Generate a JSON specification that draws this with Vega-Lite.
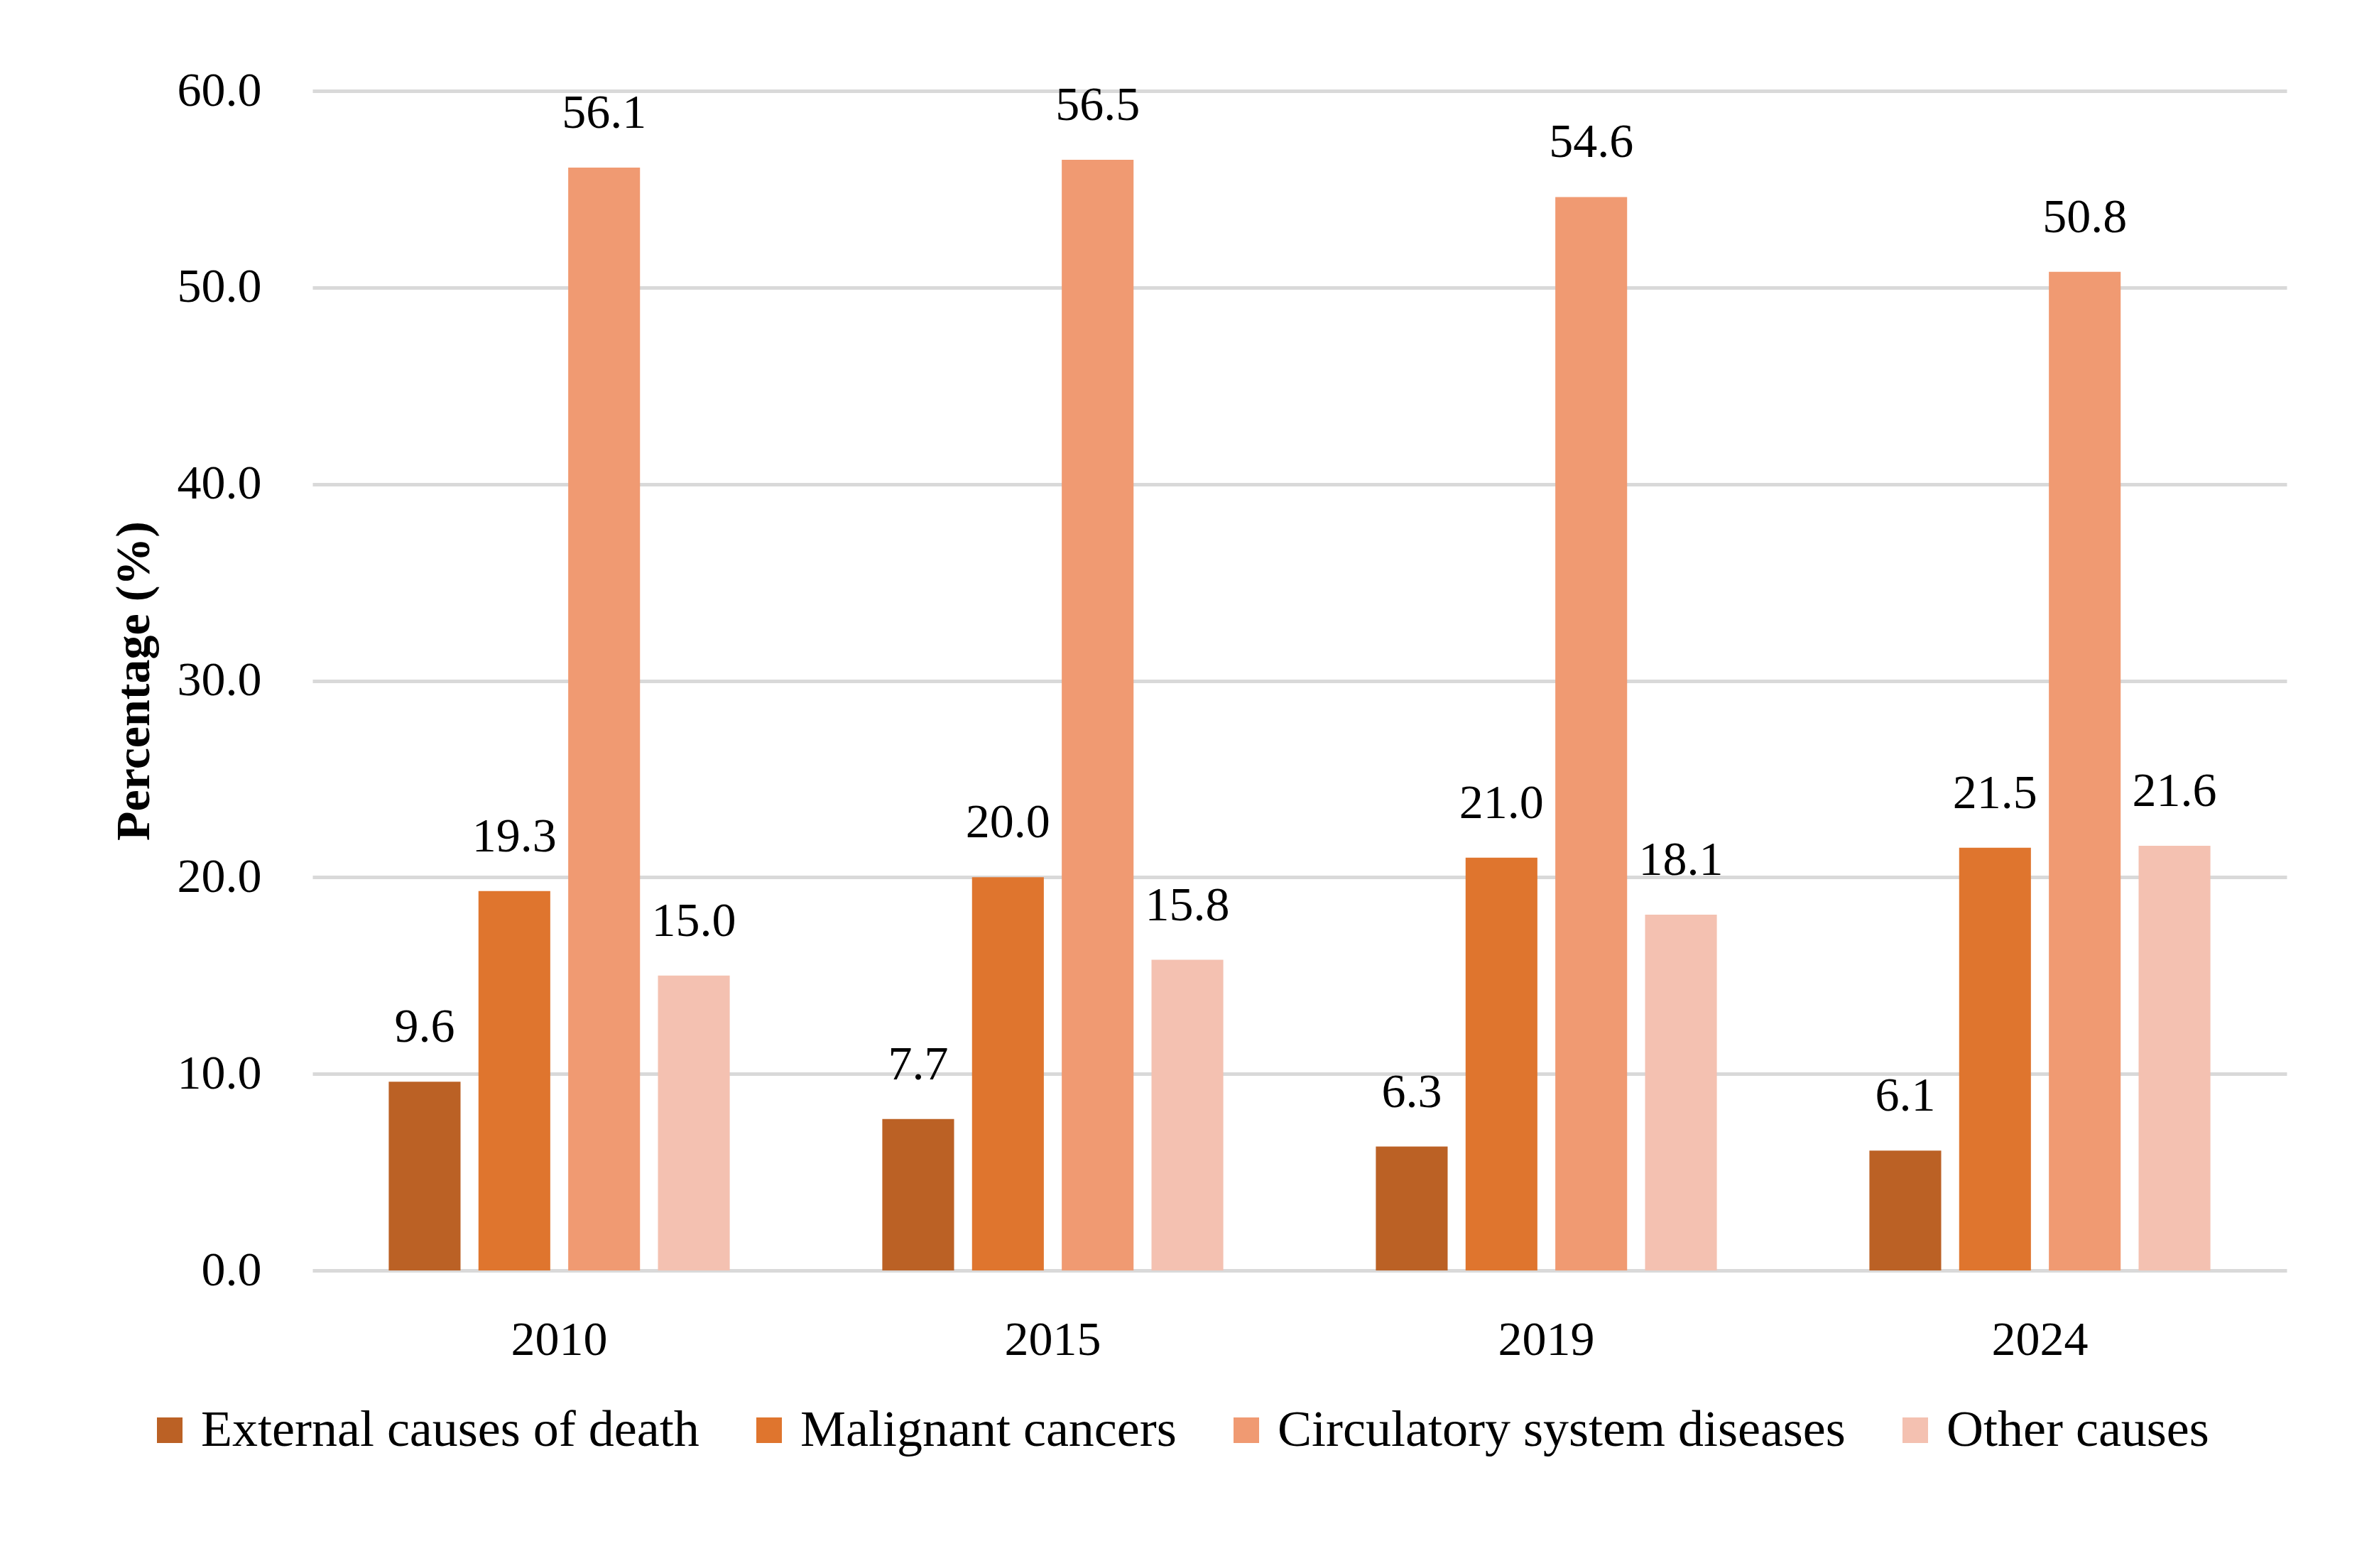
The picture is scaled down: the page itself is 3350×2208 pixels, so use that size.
{
  "$schema": "https://vega.github.io/schema/vega-lite/v6.json",
  "width": 2780,
  "height": 1661,
  "autosize": {"type": "none"},
  "padding": {"left": 440, "top": 128, "right": 130, "bottom": 419},
  "background": "white",
  "data": {
    "values": [
      {"year": "2010", "cause": "External causes of death", "pct": 9.6},
      {"year": "2010", "cause": "Malignant cancers", "pct": 19.3},
      {"year": "2010", "cause": "Circulatory system diseases", "pct": 56.1},
      {"year": "2010", "cause": "Other causes", "pct": 15.0},
      {"year": "2015", "cause": "External causes of death", "pct": 7.7},
      {"year": "2015", "cause": "Malignant cancers", "pct": 20.0},
      {"year": "2015", "cause": "Circulatory system diseases", "pct": 56.5},
      {"year": "2015", "cause": "Other causes", "pct": 15.8},
      {"year": "2019", "cause": "External causes of death", "pct": 6.3},
      {"year": "2019", "cause": "Malignant cancers", "pct": 21.0},
      {"year": "2019", "cause": "Circulatory system diseases", "pct": 54.6},
      {"year": "2019", "cause": "Other causes", "pct": 18.1},
      {"year": "2024", "cause": "External causes of death", "pct": 6.1},
      {"year": "2024", "cause": "Malignant cancers", "pct": 21.5},
      {"year": "2024", "cause": "Circulatory system diseases", "pct": 50.8},
      {"year": "2024", "cause": "Other causes", "pct": 21.6}
    ]
  },
  "encoding": {
    "x": {
      "field": "year",
      "type": "nominal",
      "scale": {"paddingInner": 0, "paddingOuter": 0},
      "axis": {
        "title": null,
        "labelAngle": 0,
        "domain": false,
        "ticks": false,
        "labelPadding": 64,
        "labelFontSize": 68
      }
    },
    "xOffset": {
      "field": "cause",
      "type": "nominal",
      "sort": ["External causes of death", "Malignant cancers", "Circulatory system diseases", "Other causes"],
      "scale": {"paddingInner": 0.2, "paddingOuter": 0.85}
    },
    "y": {
      "field": "pct",
      "type": "quantitative",
      "scale": {"domain": [0, 60]},
      "axis": {
        "values": [0, 10, 20, 30, 40, 50, 60],
        "format": ".1f",
        "domain": false,
        "ticks": false,
        "gridColor": "#D9D9D9",
        "gridWidth": 5,
        "labelPadding": 72,
        "labelFontSize": 68,
        "title": "Percentage (%)",
        "titleFontSize": 68,
        "titleFontWeight": "bold",
        "titlePadding": 26
      }
    }
  },
  "layer": [
    {
      "mark": {"type": "bar"},
      "encoding": {
        "color": {
          "field": "cause",
          "type": "nominal",
          "sort": ["External causes of death", "Malignant cancers", "Circulatory system diseases", "Other causes"],
          "scale": {
            "domain": ["External causes of death", "Malignant cancers", "Circulatory system diseases", "Other causes"],
            "range": ["#BB6125", "#DF752E", "#F09A72", "#F4C1B1"]
          },
          "legend": {
            "orient": "none",
            "legendX": -237,
            "legendY": 1850,
            "direction": "horizontal",
            "title": null,
            "symbolType": "square",
            "symbolSize": 1296,
            "symbolStrokeWidth": 0,
            "symbolOpacity": 1,
            "labelFontSize": 72,
            "labelLimit": 0,
            "labelOffset": 8,
            "columnPadding": 62,
            "labelColor": "black"
          }
        }
      }
    },
    {
      "mark": {"type": "text", "baseline": "alphabetic", "dy": -56, "fontSize": 68, "color": "black"},
      "encoding": {
        "text": {"field": "pct", "type": "quantitative", "format": ".1f"}
      }
    }
  ],
  "config": {
    "font": "Liberation Serif",
    "view": {"stroke": null},
    "axis": {"labelColor": "black", "titleColor": "black", "labelFont": "Liberation Serif", "titleFont": "Liberation Serif"},
    "legend": {"labelFont": "Liberation Serif"}
  }
}
